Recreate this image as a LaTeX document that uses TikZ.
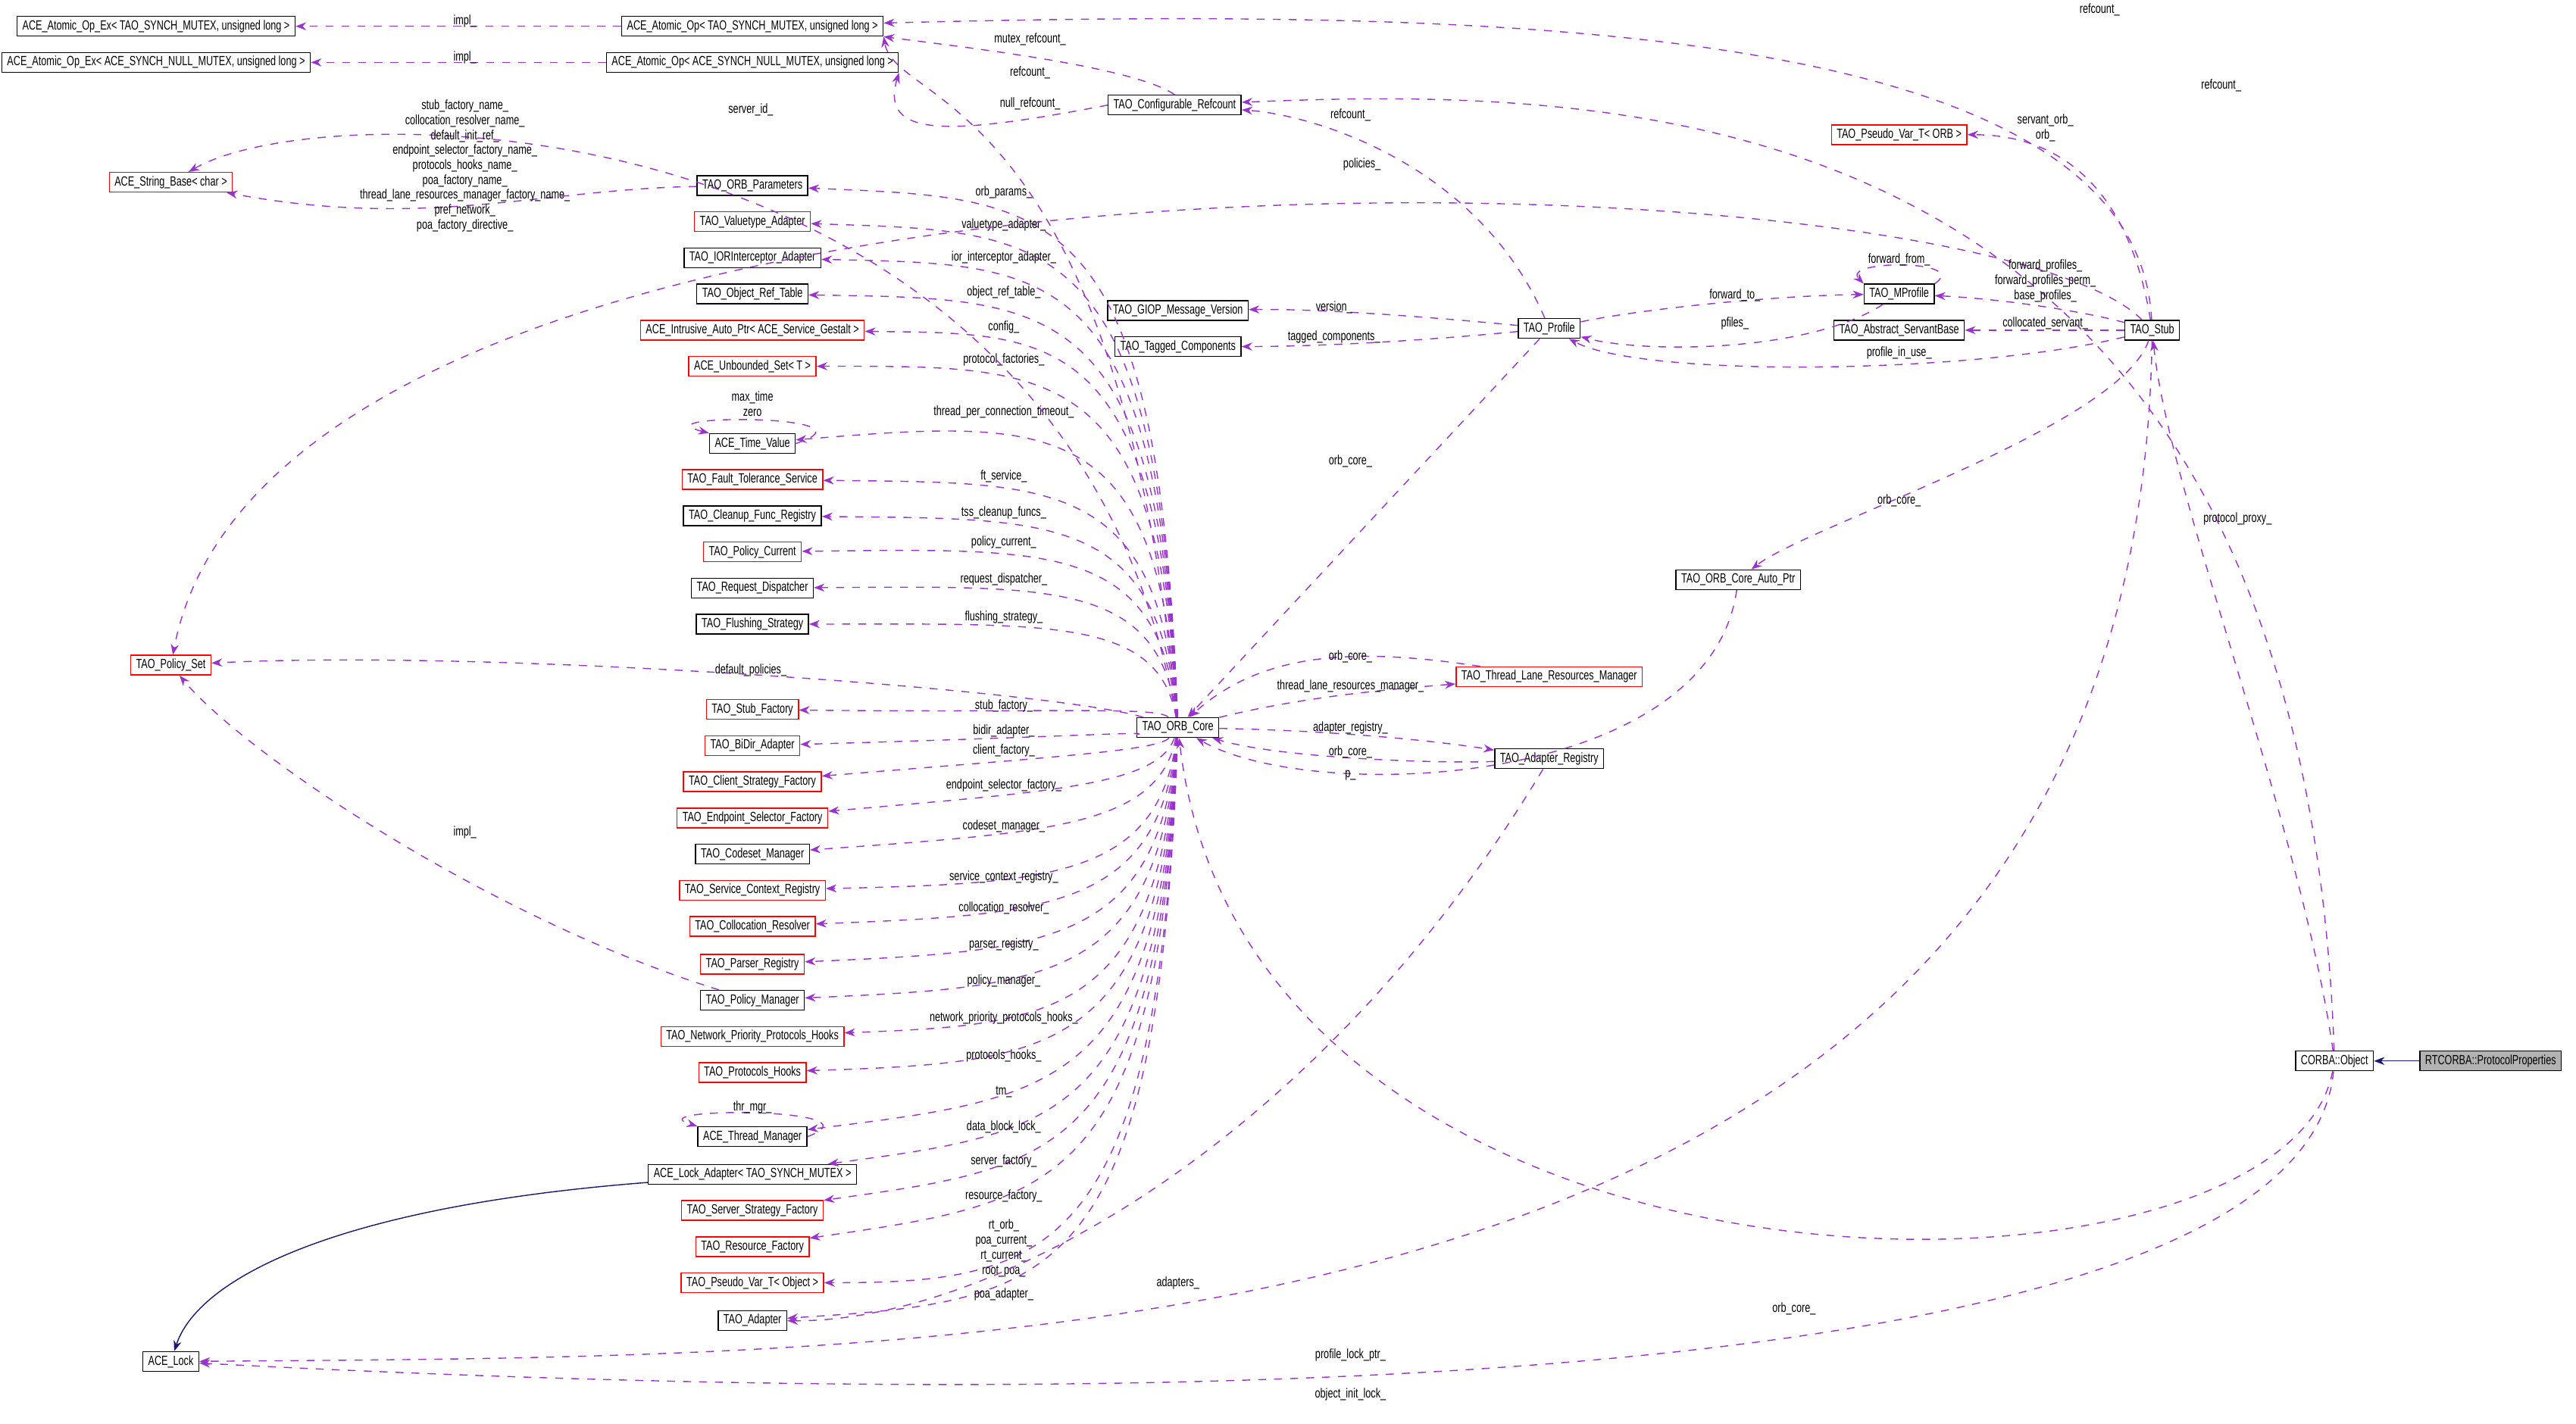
\documentclass[tikz,border=0pt]{standalone}
\usepackage{fontspec}
\usetikzlibrary{arrows.meta}
\newfontfamily\diagfont{Liberation Sans}[FakeStretch=0.72]
\definecolor{edgepurple}{HTML}{9A32CD}
\definecolor{inhnavy}{HTML}{191970}
\begin{document}
\begin{tikzpicture}[x=0.02168cm, y=-0.02168cm, font=\diagfont\fontsize{5}{5.6}\selectfont,
        box_style/.style={rectangle,draw=black,fill=white,minimum height=0.26cm,inner xsep=0.07cm,inner ysep=0.02cm},
        red_box_style/.style={box_style,draw=red},
        gray_box_style/.style={box_style,fill=black!30},
        label_style/.style={inner sep=0pt,align=center},
        edge_style/.style={draw=edgepurple,dashed,-{Stealth[length=4pt,width=3pt]}},
        inh_style/.style={draw=inhnavy,-{Stealth[length=4pt,width=3pt]}}]
        \useasboundingbox (0,0) rectangle (1568,866.6);

        % top rows
        \node [box_style] (a1) at (95,16) {ACE\_Atomic\_Op\_Ex< TAO\_SYNCH\_MUTEX, unsigned long >};
        \node [box_style] (a2) at (95,38) {ACE\_Atomic\_Op\_Ex< ACE\_SYNCH\_NULL\_MUTEX, unsigned long >};
        \node [box_style] (b1) at (458,16) {ACE\_Atomic\_Op< TAO\_SYNCH\_MUTEX, unsigned long >};
        \node [box_style] (b2) at (458,38) {ACE\_Atomic\_Op< ACE\_SYNCH\_NULL\_MUTEX, unsigned long >};
        \node [box_style] (cref) at (715,64) {TAO\_Configurable\_Refcount};
        \node [red_box_style] (strb) at (104,111) {ACE\_String\_Base< char >};
        \node [red_box_style] (pset) at (104,405) {TAO\_Policy\_Set};
        \node [box_style] (lock) at (104,829) {ACE\_Lock};

        % left column
        \node [box_style] (params) at (458,113) {TAO\_ORB\_Parameters};
        \node [red_box_style] (vta) at (458,135) {TAO\_Valuetype\_Adapter};
        \node [box_style] (ior) at (458,157) {TAO\_IORInterceptor\_Adapter};
        \node [box_style] (ort) at (458,179) {TAO\_Object\_Ref\_Table};
        \node [red_box_style] (iap) at (458,201) {ACE\_Intrusive\_Auto\_Ptr< ACE\_Service\_Gestalt >};
        \node [red_box_style] (uset) at (458,223) {ACE\_Unbounded\_Set< T >};
        \node [box_style] (tv) at (458,270) {ACE\_Time\_Value};
        \node [red_box_style] (fts) at (458,292) {TAO\_Fault\_Tolerance\_Service};
        \node [box_style] (cfr) at (458,314) {TAO\_Cleanup\_Func\_Registry};
        \node [red_box_style] (pcur) at (458,336) {TAO\_Policy\_Current};
        \node [box_style] (rdis) at (458,358) {TAO\_Request\_Dispatcher};
        \node [box_style] (fstr) at (458,380) {TAO\_Flushing\_Strategy};
        \node [red_box_style] (sfac) at (458,432) {TAO\_Stub\_Factory};
        \node [red_box_style] (bidir) at (458,454) {TAO\_BiDir\_Adapter};
        \node [red_box_style] (csf) at (458,476) {TAO\_Client\_Strategy\_Factory};
        \node [red_box_style] (esf) at (458,498) {TAO\_Endpoint\_Selector\_Factory};
        \node [box_style] (csm) at (458,520) {TAO\_Codeset\_Manager};
        \node [red_box_style] (scr) at (458,542) {TAO\_Service\_Context\_Registry};
        \node [red_box_style] (colr) at (458,564) {TAO\_Collocation\_Resolver};
        \node [red_box_style] (preg) at (458,587) {TAO\_Parser\_Registry};
        \node [box_style] (pman) at (458,609) {TAO\_Policy\_Manager};
        \node [red_box_style] (nph) at (458,631) {TAO\_Network\_Priority\_Protocols\_Hooks};
        \node [red_box_style] (phk) at (458,653) {TAO\_Protocols\_Hooks};
        \node [box_style] (tman) at (458,692) {ACE\_Thread\_Manager};
        \node [box_style] (ladp) at (458,715) {ACE\_Lock\_Adapter< TAO\_SYNCH\_MUTEX >};
        \node [red_box_style] (ssf) at (458,737) {TAO\_Server\_Strategy\_Factory};
        \node [red_box_style] (rfac) at (458,759) {TAO\_Resource\_Factory};
        \node [red_box_style] (pvo) at (458,781) {TAO\_Pseudo\_Var\_T< Object >};
        \node [box_style] (adp) at (458,804) {TAO\_Adapter};

        % middle and right
        \node [box_style] (core) at (717,443) {TAO\_ORB\_Core};
        \node [box_style] (giop) at (717,189) {TAO\_GIOP\_Message\_Version};
        \node [box_style] (tagc) at (717,211) {TAO\_Tagged\_Components};
        \node [box_style] (prof) at (943,200) {TAO\_Profile};
        \node [box_style] (mprof) at (1156,179) {TAO\_MProfile};
        \node [box_style] (asb) at (1156,201) {TAO\_Abstract\_ServantBase};
        \node [box_style] (stub) at (1310,201) {TAO\_Stub};
        \node [red_box_style] (pvorb) at (1156,82) {TAO\_Pseudo\_Var\_T< ORB >};
        \node [box_style] (autop) at (1058,353) {TAO\_ORB\_Core\_Auto\_Ptr};
        \node [red_box_style] (tlrm) at (943,412) {TAO\_Thread\_Lane\_Resources\_Manager};
        \node [box_style] (areg) at (943,462) {TAO\_Adapter\_Registry};
        \node [box_style] (obj) at (1421,646) {CORBA::Object};
        \node [gray_box_style] (rtpp) at (1516,646) {RTCORBA::ProtocolProperties};

        % ORB core members in the left column
        \foreach \n/\ly/\t in {params/117/orb\_params\_, vta/137/valuetype\_adapter\_,
                ior/157/ior\_interceptor\_adapter\_, ort/178/object\_ref\_table\_, iap/199/config\_,
                uset/219/protocol\_factories\_, tv/251/thread\_per\_connection\_timeout\_,
                fts/290/ft\_service\_, cfr/312/tss\_cleanup\_funcs\_, pcur/330/policy\_current\_,
                rdis/353/request\_dispatcher\_, fstr/376/flushing\_strategy\_,
                sfac/430/stub\_factory\_, bidir/445/bidir\_adapter\_, csf/457/client\_factory\_,
                esf/478/endpoint\_selector\_factory\_, csm/503/codeset\_manager\_,
                scr/534/service\_context\_registry\_, colr/553/collocation\_resolver\_,
                preg/575/parser\_registry\_, pman/597/policy\_manager\_,
                nph/620/network\_priority\_protocols\_hooks\_, phk/643/protocols\_hooks\_,
                tman/665/tm\_, ladp/686/data\_block\_lock\_, ssf/707/server\_factory\_,
                rfac/728/resource\_factory\_, adp/788/poa\_adapter\_}
        {
            \draw [edge_style] (core) .. controls (705,\ly) and (640,\ly+4) .. (\n);
            \node [label_style] (lb_\n) at (611,\ly) {\t};
        }
        \draw [edge_style] (core) .. controls (705,765) and (640,781) .. (pvo);
        \node [label_style] (lb_pvo) at (611,760) {rt\_orb\_\\poa\_current\_\\rt\_current\_\\root\_poa\_};

        % self loops
        \draw [edge_style] (tv.east) .. controls (540,252) and (385,252) .. (tv.north west);
        \node [label_style] (lb_tv) at (458,246) {max\_time\\zero};
        \draw [edge_style] (tman.east) .. controls (540,674) and (385,674) .. (tman.north west);
        \node [label_style] (lb_tman) at (458,674) {thr\_mgr\_};
        \draw [edge_style] (mprof.north east) .. controls (1200,158) and (1120,158) .. (mprof.north west);
        \node [label_style] (lb_mprof) at (1156,158) {forward\_from\_};

        % atomic ops and refcounts
        \draw [edge_style] (b1) -- (a1);
        \node [label_style] (lb_b1) at (283,13) {impl\_};
        \draw [edge_style] (b2) -- (a2);
        \node [label_style] (lb_b2) at (283,35) {impl\_};
        \draw [edge_style] (cref.north) .. controls (690,40) and (580,28) .. (b1.south east);
        \node [label_style] (lb_mref) at (627,24) {mutex\_refcount\_};
        \draw [edge_style] (cref.west) .. controls (580,82) and (535,85) .. (b2.south east);
        \node [label_style] (lb_nref) at (627,63) {null\_refcount\_};
        \draw [edge_style] (core) .. controls (680,55) and (545,65) .. (b1.south east);
        \node [label_style] (lb_cref) at (627,44) {refcount\_};
        \draw [edge_style] (stub) .. controls (1300,10) and (900,5) .. (b1);
        \node [label_style] (lb_sref) at (1278,6) {refcount\_};
        \draw [edge_style] (obj) .. controls (1400,60) and (1000,52) .. (cref);
        \node [label_style] (lb_oref) at (1352,52) {refcount\_};
        \draw [edge_style] (prof) .. controls (900,100) and (800,70) .. (cref);
        \node [label_style] (lb_pref) at (822,70) {refcount\_};

        % strings and policies
        \draw [edge_style] (core) .. controls (650,60) and (200,55) .. (strb);
        \node [label_style] (lb_sid) at (457,67) {server\_id\_};
        \draw [edge_style] (params) .. controls (330,115) and (260,140) .. (strb);
        \node [label_style] (lb_par) at (283,101) {stub\_factory\_name\_\\collocation\_resolver\_name\_\\default\_init\_ref\_\\endpoint\_selector\_factory\_name\_\\protocols\_hooks\_name\_\\poa\_factory\_name\_\\thread\_lane\_resources\_manager\_factory\_name\_\\pref\_network\_\\poa\_factory\_directive\_};
        \draw [edge_style] (stub) .. controls (1200,90) and (170,60) .. (pset);
        \node [label_style] (lb_pol) at (829,100) {policies\_};
        \draw [edge_style] (core) .. controls (640,420) and (300,395) .. (pset);
        \node [label_style] (lb_dpol) at (457,408) {default\_policies\_};
        \draw [edge_style] (pman) .. controls (300,560) and (150,460) .. (pset);
        \node [label_style] (lb_pm) at (283,507) {impl\_};

        % locks
        \draw [inh_style] (ladp) .. controls (200,735) and (120,780) .. (lock);
        \draw [edge_style] (obj) .. controls (1400,865) and (600,855) .. (lock);
        \node [label_style] (lb_oil) at (822,849) {object\_init\_lock\_};
        \draw [edge_style] (stub) .. controls (1300,835) and (600,825) .. (lock);
        \node [label_style] (lb_plp) at (822,825) {profile\_lock\_ptr\_};

        % ORB core neighbours
        \draw [edge_style] (obj) .. controls (1390,810) and (760,815) .. (core);
        \node [label_style] (lb_ooc) at (1092,797) {orb\_core\_};
        \draw [edge_style] (tlrm) .. controls (830,395) and (770,395) .. (core);
        \node [label_style] (lb_toc) at (822,400) {orb\_core\_};
        \draw [edge_style] (core) .. controls (790,425) and (840,420) .. (tlrm);
        \node [label_style] (lb_tlrm) at (822,418) {thread\_lane\_resources\_manager\_};
        \draw [edge_style] (core) .. controls (820,445) and (880,452) .. (areg);
        \node [label_style] (lb_areg) at (822,443) {adapter\_registry\_};
        \draw [edge_style] (areg) .. controls (880,465) and (780,462) .. (core);
        \node [label_style] (lb_aoc) at (822,458) {orb\_core\_};
        \draw [edge_style] (autop) .. controls (1040,480) and (800,490) .. (core);
        \node [label_style] (lb_p) at (822,472) {p\_};
        \draw [edge_style] (prof) -- (core);
        \node [label_style] (lb_poc) at (822,281) {orb\_core\_};
        \draw [edge_style] (areg) .. controls (800,700) and (600,805) .. (adp);
        \node [label_style] (lb_adps) at (717,781) {adapters\_};

        % profiles and stub
        \draw [edge_style] (prof) .. controls (860,192) and (800,188) .. (giop);
        \node [label_style] (lb_ver) at (812,187) {version\_};
        \draw [edge_style] (prof) .. controls (860,208) and (800,211) .. (tagc);
        \node [label_style] (lb_tag) at (812,205) {tagged\_components\_};
        \draw [edge_style] (prof) .. controls (1000,188) and (1080,180) .. (mprof);
        \node [label_style] (lb_fwd) at (1056,180) {forward\_to\_};
        \draw [edge_style] (mprof) .. controls (1100,215) and (1000,215) .. (prof);
        \node [label_style] (lb_pf) at (1056,197) {pfiles\_};
        \draw [edge_style] (stub) .. controls (1270,190) and (1220,182) .. (mprof);
        \node [label_style] (lb_fp) at (1245,171) {forward\_profiles\_\\forward\_profiles\_perm\_\\base\_profiles\_};
        \draw [edge_style] (stub) -- (asb);
        \node [label_style] (lb_cs) at (1245,197) {collocated\_servant\_};
        \draw [edge_style] (stub) .. controls (1200,228) and (1000,230) .. (prof);
        \node [label_style] (lb_piu) at (1156,215) {profile\_in\_use\_};
        \draw [edge_style] (stub) .. controls (1295,110) and (1250,82) .. (pvorb);
        \node [label_style] (lb_sorb) at (1245,78) {servant\_orb\_\\orb\_};
        \draw [edge_style] (stub) .. controls (1290,260) and (1100,320) .. (autop);
        \node [label_style] (lb_soc) at (1156,305) {orb\_core\_};
        \draw [edge_style] (obj) .. controls (1400,500) and (1320,300) .. (stub);
        \node [label_style] (lb_pp) at (1362,316) {protocol\_proxy\_};
        \draw [inh_style] (rtpp) -- (obj);
\end{tikzpicture}
\end{document}
